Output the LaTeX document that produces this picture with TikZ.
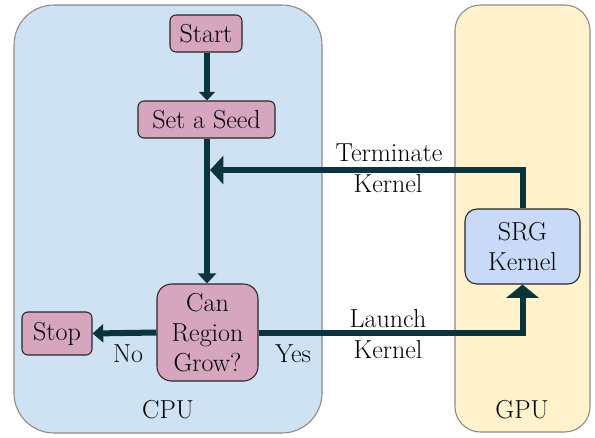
\documentclass[tikz,border=0pt]{standalone}
\usetikzlibrary{arrows.meta}
\definecolor{cpubg}{HTML}{CFE2F3}
\definecolor{gpubg}{HTML}{FFF2CC}
\definecolor{pinkbox}{HTML}{D5A6BD}
\definecolor{bluebox}{HTML}{C9DAF8}
\definecolor{arrowc}{HTML}{0C343D}
\definecolor{framec}{HTML}{8A8A8A}
\tikzset{
  region/.style={draw=framec, line width=0.8pt},
  proc/.style={draw=black!85, line width=0.8pt, fill=pinkbox, rounded corners=4.5pt, inner sep=0pt, align=center, font=\rmfamily\fontsize{19.5}{22.5}\selectfont},
  flow/.style={draw=arrowc, line width=4.5pt},
  lbl/.style={font=\rmfamily\fontsize{19.5}{22.5}\selectfont, inner sep=0pt, align=center}
}
\begin{document}
\begin{tikzpicture}[x=0.75pt,y=-0.75pt]
\useasboundingbox (0,0) rectangle (595,437);
% regions
\draw[region, fill=cpubg, rounded corners=30pt] (14,5) rectangle (322,433);
\draw[region, fill=gpubg, rounded corners=19pt] (455,5) rectangle (590,432);
% nodes
\node[proc, minimum width=54pt, minimum height=27.75pt] (start) at (206,33.5) {Start};
\node[proc, minimum width=102.75pt, minimum height=27.75pt] (seed) at (206.5,119.5) {Set a Seed};
\node[proc, minimum width=75.75pt, minimum height=72.75pt, rounded corners=11pt] (can) at (207.5,332.5) {Can\\Region\\Grow?};
\node[proc, minimum width=52.5pt, minimum height=32.25pt] (stop) at (57,333.5) {Stop};
\node[proc, fill=bluebox, minimum width=86.25pt, minimum height=56.25pt, rounded corners=9pt] (srg) at (522.5,246.5) {SRG\\Kernel};
\coordinate (join) at (210,170);
% connectors
\draw[flow, -{Triangle[width=12pt,length=6.5pt]}] (start.south -| 207,0) -- (seed.north -| 207,0);
\draw[flow, -{Triangle[width=13.5pt,length=7.5pt]}] (seed.south -| 207,0) -- (can.north -| 207,0);
\draw[flow, -{Triangle[width=13.5pt,length=8pt]}] (can.west) -- (stop.east);
\draw[flow, -{Triangle[width=24pt,length=10pt]}] (can.east) -- (can.east -| srg.south) -- (srg.south);
\draw[flow, -{Triangle[width=21pt,length=10pt]}] (srg.north) -- (srg.north |- join) -- (join);
% labels
\node[lbl] (term) at (389,153) {Terminate};
\node[lbl] (termk) at (388,184) {Kernel};
\node[lbl] (launch) at (388,319) {Launch};
\node[lbl] (launchk) at (388,350) {Kernel};
\node[lbl] (no) at (128,354) {No};
\node[lbl] (yes) at (293,354) {Yes};
\node[lbl] (cpu) at (168,410) {CPU};
\node[lbl] (gpu) at (522,410) {GPU};
\end{tikzpicture}
\end{document}
